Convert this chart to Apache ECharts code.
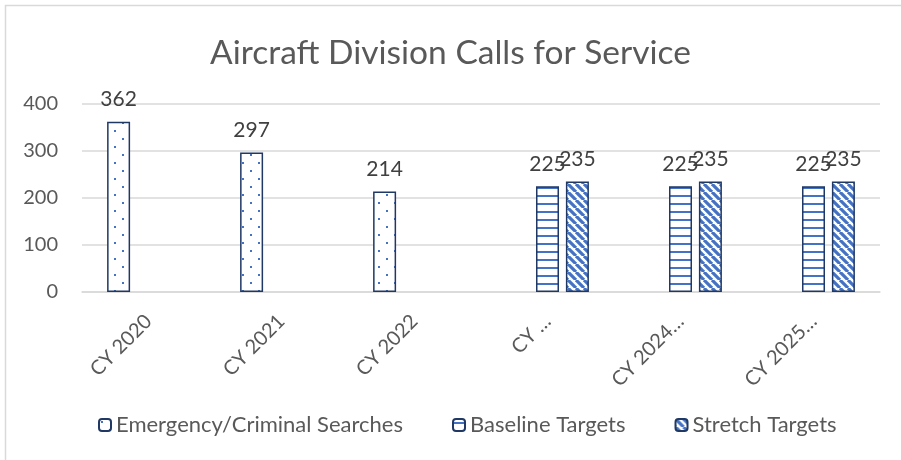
<!DOCTYPE html>
<html><head><meta charset="utf-8">
<script src="https://cdn.jsdelivr.net/npm/echarts@6/dist/echarts.min.js"></script>
<style>html,body{margin:0;padding:0;background:#fff}#c{width:901px;height:460px}</style>
</head><body><div id="c"></div>
<script>
const categories = ["CY 2020","CY 2021","CY 2022","CY \u2026","CY 2024\u2026","CY 2025\u2026"];
const emergency = [362, 297, 214, null, null, null];
const baseline = [null, null, null, 225, 225, 225];
const stretch = [null, null, null, 235, 235, 235];
const yTicks = [0, 100, 200, 300, 400];

const FONT = 'Lato';
const BLUE = '#4472C4';
const NAVY = '#1F3864';

function mk(w,h,draw){const c=document.createElement('canvas');c.width=w;c.height=h;const g=c.getContext('2d');g.fillStyle='#fff';g.fillRect(0,0,w,h);draw(g);return c;}
const dots = mk(16,16,g=>{g.fillStyle=BLUE;g.fillRect(2,2,2,2);g.fillRect(10,10,2,2);});
const hlines = mk(8,8,g=>{g.fillStyle=BLUE;g.fillRect(0,3,8,2);});
const diag = mk(8,8,g=>{g.strokeStyle=BLUE;g.lineWidth=3.2;g.beginPath();
  for(let k=-16;k<=16;k+=8){g.moveTo(k,0);g.lineTo(k+8,8);}g.stroke();});

function pat(c){return {image:c,repeat:'repeat'};}

const lbl = {show:true,position:'top',distance:12,color:'#404040',fontSize:21,fontFamily:FONT};
const chart = echarts.init(document.getElementById('c'),null,{renderer:'canvas'});
chart.setOption({
  animation:false,
  title:{text:'Aircraft Division Calls for Service',left:'center',top:31,
    textStyle:{fontFamily:FONT,fontSize:33.5,fontWeight:'normal',color:'#595959'}},
  graphic:[{type:'polyline',shape:{points:[[5.5,460],[5.5,5.5],[901,5.5]]},style:{stroke:'#D9D9D9',lineWidth:1.5,fill:null}}],
  grid:{left:82,right:21,top:104,bottom:168},
  legend:{top:409,left:93,itemWidth:12,itemHeight:12,itemGap:49,
    textStyle:{fontFamily:FONT,fontSize:22,color:'#595959'},
    data:['Emergency/Criminal Searches','Baseline Targets','Stretch Targets']},
  xAxis:{type:'category',data:categories,
    axisLine:{lineStyle:{color:'#D9D9D9',width:1.5}},axisTick:{show:false},
    axisLabel:{rotate:45,interval:0,fontFamily:FONT,fontSize:20,color:'#595959',margin:26}},
  yAxis:{type:'value',min:yTicks[0],max:yTicks[yTicks.length-1],interval:100,
    axisLine:{show:false},axisTick:{show:false},
    splitLine:{lineStyle:{color:'#D9D9D9',width:1.5}},
    axisLabel:{fontFamily:FONT,fontSize:20,color:'#595959',margin:24}},
  series:[
    {name:'Emergency/Criminal Searches',type:'bar',data:emergency,barWidth:23,barGap:'30%',
      itemStyle:{color:pat(dots),borderColor:NAVY,borderWidth:1.5},label:lbl},
    {name:'Baseline Targets',type:'bar',data:baseline,barWidth:23,barGap:'30%',
      itemStyle:{color:pat(hlines),borderColor:NAVY,borderWidth:1.5},label:lbl},
    {name:'Stretch Targets',type:'bar',data:stretch,barWidth:23,barGap:'30%',
      itemStyle:{color:pat(diag),borderColor:NAVY,borderWidth:1.5},label:lbl}
  ]
});
</script></body></html>
